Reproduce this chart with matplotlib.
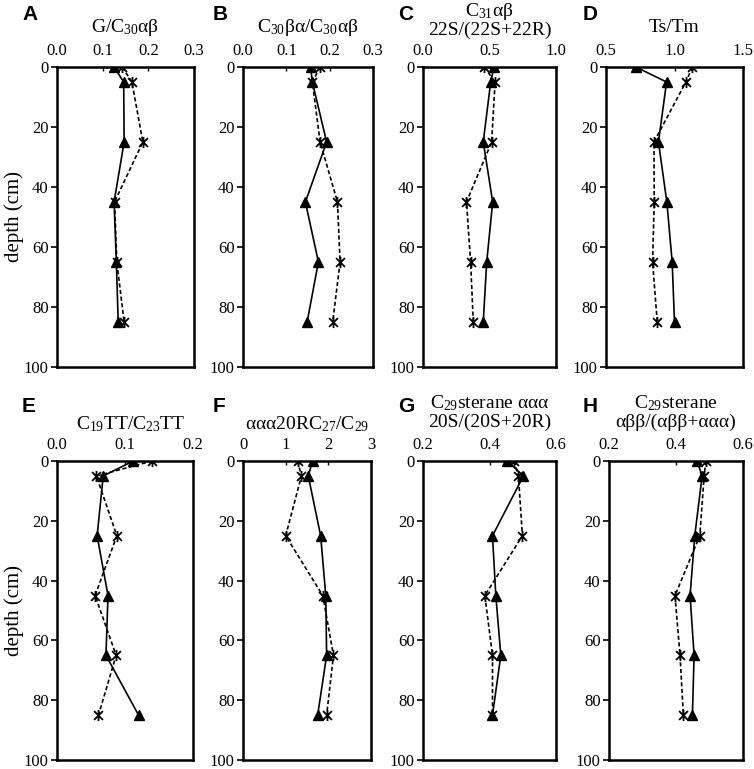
import matplotlib
matplotlib.use("Agg")
import matplotlib.pyplot as plt
from matplotlib.path import Path
import numpy as np

plt.rcParams['font.family'] = ['Liberation Serif', 'DejaVu Serif']
plt.rcParams['mathtext.fontset'] = 'custom'
plt.rcParams['mathtext.rm'] = 'Liberation Serif'
plt.rcParams['mathtext.it'] = 'Liberation Serif'

depth = [0, 5, 25, 45, 65, 85]

A_tri = [0.125, 0.146, 0.147, 0.125, 0.130, 0.134]
A_star = [0.143, 0.164, 0.188, 0.126, 0.131, 0.147]
B_tri = [0.156, 0.160, 0.193, 0.144, 0.174, 0.148]
B_star = [0.178, 0.160, 0.178, 0.218, 0.224, 0.207]
C_tri = [0.534, 0.509, 0.453, 0.524, 0.479, 0.453]
C_star = [0.461, 0.542, 0.516, 0.327, 0.358, 0.378]
D_tri = [0.718, 0.942, 0.883, 0.944, 0.983, 1.000]
D_star = [1.131, 1.083, 0.850, 0.852, 0.840, 0.874]
E_tri = [0.112, 0.068, 0.059, 0.075, 0.072, 0.120]
E_star = [0.140, 0.058, 0.088, 0.056, 0.087, 0.061]
F_tri = [1.63, 1.53, 1.82, 1.94, 1.96, 1.75]
F_star = [1.28, 1.37, 1.00, 1.87, 2.12, 1.96]
G_tri = [0.454, 0.502, 0.409, 0.419, 0.434, 0.409]
G_star = [0.474, 0.487, 0.499, 0.386, 0.409, 0.409]
H_tri = [0.463, 0.478, 0.456, 0.442, 0.454, 0.449]
H_star = [0.489, 0.484, 0.471, 0.397, 0.412, 0.422]

titles = [
    "G/C$_{30}$αβ",
    "C$_{30}$βα/C$_{30}$αβ",
    "C$_{31}$αβ\n22S/(22S+22R)",
    "Ts/Tm",
    "C$_{19}$TT/C$_{23}$TT",
    "ααα20RC$_{27}$/C$_{29}$",
    "C$_{29}$sterane ααα\n20S/(20S+20R)",
    "C$_{29}$sterane\nαββ/(αββ+ααα)",
]
letters = ["A", "B", "C", "D", "E", "F", "G", "H"]
xlims = [(0, 0.3), (0, 0.3), (0, 1.0), (0.5, 1.5), (0, 0.2), (0, 3), (0.2, 0.6), (0.2, 0.6)]
xticks = [
    [0.0, 0.1, 0.2, 0.3],
    [0.0, 0.1, 0.2, 0.3],
    [0.0, 0.5, 1.0],
    [0.5, 1.0, 1.5],
    [0.0, 0.1, 0.2],
    [0, 1, 2, 3],
    [0.2, 0.4, 0.6],
    [0.2, 0.4, 0.6],
]
xfmt = ["%.1f", "%.1f", "%.1f", "%.1f", "%.1f", "%d", "%.1f", "%.1f"]
tri_data = [A_tri, B_tri, C_tri, D_tri, E_tri, F_tri, G_tri, H_tri]
star_data = [A_star, B_star, C_star, D_star, E_star, F_star, G_star, H_star]
yticks = [0, 20, 40, 60, 80, 100]

W, H = 754, 769
fig = plt.figure(figsize=(W / 100, H / 100), dpi=100)

# axes pixel boxes (left, right, top, bottom)
boxes = [
    (57, 194, 67, 367), (243, 373, 67, 367), (423, 556, 67, 367), (606, 743, 67, 367),
    (57, 193, 461, 760), (243, 371, 461, 760), (423, 556, 461, 760), (609, 743, 461, 760),
]
letter_pos = [(22, 14), (213, 14), (398, 14), (583, 14),
              (22, 406), (213, 406), (398, 406), (583, 406)]

star_marker = Path([(-1, -1), (1, 1), (-1, 1), (1, -1), (0, -1.25), (0, 1.25)],
                   [Path.MOVETO, Path.LINETO, Path.MOVETO, Path.LINETO, Path.MOVETO, Path.LINETO])

for i in range(8):
    l, r, t, b = boxes[i]
    ax = fig.add_axes([l / W, 1 - b / H, (r - l) / W, (b - t) / H])
    ax.plot(tri_data[i], depth, color='black', lw=1.2, marker='^', ms=6.5,
            mfc='black', mec='black', zorder=3)
    ax.plot(star_data[i], depth, color='black', lw=1.2, ls=(0, (2.5, 1.5)),
            marker=star_marker, ms=8, mfc='none', mec='black', mew=1.3, zorder=3)
    ax.set_xlim(*xlims[i])
    ax.set_ylim(100, 0)
    ax.set_yticks(yticks)
    ax.set_xticks(xticks[i])
    ax.set_xticklabels([xfmt[i] % v for v in xticks[i]])
    ax.xaxis.tick_top()
    ax.tick_params(axis='x', direction='in', length=3, width=1, labelsize=12, pad=6)
    ax.tick_params(axis='y', direction='out', length=4, width=1.2, labelsize=12, pad=2)
    for s in ax.spines.values():
        s.set_linewidth(1.8)
    cx = (l + r) / 2
    if i == 4:
        cx += 6
    ty = 27 if i < 4 else 424
    if "\n" in titles[i]:
        ty = 20 if i < 4 else 412
    fig.text(cx / W, 1 - ty / H, titles[i], ha='center', va='center',
             fontsize=14, linespacing=1.0)
    lx, ly = letter_pos[i]
    fig.text(lx / W, 1 - ly / H, letters[i], ha='left', va='center',
             fontsize=15, fontweight='bold', family=['Liberation Sans', 'DejaVu Sans'])
    if i in (0, 4):
        ax.set_ylabel("depth (cm)", fontsize=15, labelpad=0)

fig.savefig("out.png", dpi=100)
